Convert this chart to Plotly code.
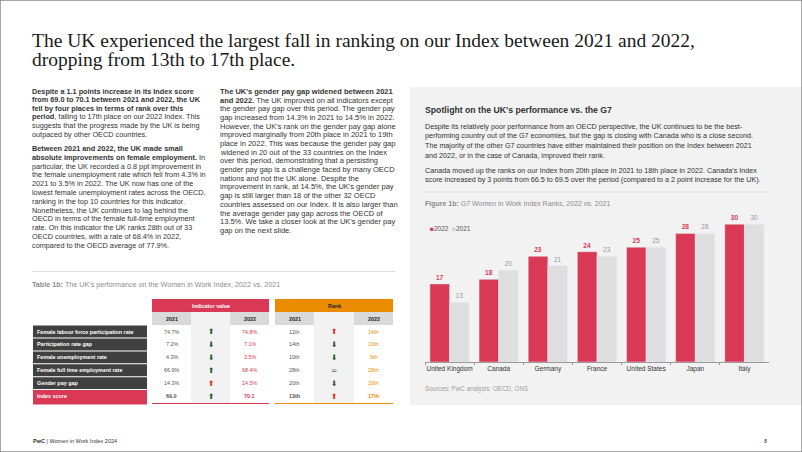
import plotly.graph_objects as go

# ---------------- data ----------------
countries = ["United Kingdom", "Canada", "Germany", "France", "United States", "Japan", "Italy"]
rank_2022 = [17, 18, 23, 24, 25, 28, 30]
rank_2021 = [13, 20, 21, 23, 25, 28, 30]

table_rows = ["Female labour force participation rate", "Participation rate gap",
              "Female unemployment rate", "Female full time employment rate",
              "Gender pay gap", "Index score"]
value_2021 = ["74.7%", "7.2%", "4.3%", "66.9%", "14.3%", "69.0"]
value_2022 = ["74.8%", "7.1%", "3.5%", "68.4%", "14.5%", "70.1"]
value_arrow = ["up_good", "down_good", "down_good", "up_good", "up_bad", "up_good"]
rank_t_2021 = ["12th", "14th", "10th", "28th", "20th", "13th"]
rank_t_2022 = ["14th", "13th", "9th", "28th", "19th", "17th"]
rank_arrow = ["up_bad", "down_good", "down_good", "equal", "down_good", "up_bad"]

title_lines = ["The UK experienced the largest fall in ranking on our Index between 2021 and 2022,",
               "dropping from 13th to 17th place."]
left_p1 = ["<b>Despite a 1.1 points increase in its Index score</b>",
           "<b>from 69.0 to 70.1 between 2021 and 2022, the UK</b>",
           "<b>fell by four places in terms of rank over this</b>",
           "<b>period</b>, falling to 17th place on our 2022 Index. This",
           "suggests that the progress made by the UK is being",
           "outpaced by other OECD countries."]
left_p2 = ["<b>Between 2021 and 2022, the UK made small</b>",
           "<b>absolute improvements on female employment.</b> In",
           "particular, the UK recorded a 0.8 ppt improvement in",
           "the female unemployment rate which fell from 4.3% in",
           "2021 to 3.5% in 2022. The UK now has one of the",
           "lowest female unemployment rates across the OECD,",
           "ranking in the top 10 countries for this indicator.",
           "Nonetheless, the UK continues to lag behind the",
           "OECD in terms of the female full-time employment",
           "rate. On this indicator the UK ranks 28th out of 33",
           "OECD countries, with a rate of 68.4% in 2022,",
           "compared to the OECD average of 77.9%."]
mid_p = ["<b>The UK's gender pay gap widened between 2021</b>",
         "<b>and 2022.</b> The UK improved on all indicators except",
         "the gender pay gap over this period. The gender pay",
         "gap increased from 14.3% in 2021 to 14.5% in 2022.",
         "However, the UK's rank on the gender pay gap alone",
         "improved marginally from 20th place in 2021 to 19th",
         "place in 2022. This was because the gender pay gap",
         "widened in 20 out of the 33 countries on the Index",
         "over this period, demonstrating that a persisting",
         "gender pay gap is a challenge faced by many OECD",
         "nations and not the UK alone. Despite the",
         "improvement in rank, at 14.5%, the UK's gender pay",
         "gap is still larger than 18 of the other 32 OECD",
         "countries assessed on our Index. It is also larger than",
         "the average gender pay gap across the OECD of",
         "13.5%. We take a closer look at the UK's gender pay",
         "gap on the next slide."]
right_p1 = ["Despite its relatively poor performance from an OECD perspective, the UK continues to be the best-",
            "performing country out of the G7 economies, but the gap is closing with Canada who is a close second.",
            "The majority of the other G7 countries have either maintained their position on the Index between 2021",
            "and 2022, or in the case of Canada, improved their rank."]
right_p2 = ["Canada moved up the ranks on our Index from 20th place in 2021 to 18th place in 2022. Canada's Index",
            "score increased by 3 points from 66.5 to 69.5 over the period (compared to a 2 point increase for the UK)."]

# ---------------- styling ----------------
W, H = 802, 452
RED = "#d93954"
ORANGE = "#eb8c00"
GREY_BAR = "#dedede"
PANEL = "#f2f2f2"
DARK = "#404040"
TXT = "#333333"
GREEN = "#175c2c"
ARROW_RED = "#e0301e"
SANS = "Liberation Sans, Arial, sans-serif"


def X(p):
    return p / W


def Y(p):
    return 1 - p / H


shapes = []
ann = []


def rect(x0, y0, x1, y1, color, layer="below"):
    shapes.append(dict(type="rect", xref="paper", yref="paper", x0=X(x0), x1=X(x1),
                       y0=Y(y1), y1=Y(y0), fillcolor=color, line=dict(width=0), layer=layer))


def line(x0, y0, x1, y1, color, width=1):
    shapes.append(dict(type="line", xref="paper", yref="paper", x0=X(x0), x1=X(x1),
                       y0=Y(y0), y1=Y(y1), line=dict(color=color, width=width), layer="below"))


def text(x, y, s, size=7, color=TXT, xanchor="left", yanchor="middle", family=SANS, align="left"):
    ann.append(dict(xref="paper", yref="paper", x=X(x), y=Y(y), text=s, showarrow=False,
                    xanchor=xanchor, yanchor=yanchor, align=align, borderpad=0,
                    font=dict(size=size, color=color, family=family)))


def para(x, y0, spacing, lines_list, size, color=TXT, family=SANS):
    for k, s in enumerate(lines_list):
        text(x, y0 + k * spacing, s, size=size, color=color, family=family)


# panel
rect(410, 87, 802, 405, PANEL)

# title
para(31, 40, 20, title_lines, 19.5, color="#1a1a1a", family="Liberation Serif, Georgia, serif")

# left & middle columns
para(31, 91, 8.6, left_p1, 7.3)
para(31, 148.5, 8.8, left_p2, 7.3)
para(219, 91.5, 8.68, mid_p, 7.5)
line(32, 271.5, 395, 271.5, "#dcdcdc", 1)

# right panel texts
text(424, 110, "<b>Spotlight on the UK's performance vs. the G7</b>", size=8.7, color="#333333")
para(424, 126, 9.9, right_p1, 7.2)
para(424, 170, 9.9, right_p2, 7.2)
line(424, 192, 770, 192, "#dedede", 1)
text(424, 204, "<b>Figure 1b:</b> G7 Women in Work Index Ranks, 2022 vs. 2021", size=7, color="#8c8c8c")
text(424, 389, "Sources: PwC analysis: OECD, ONS", size=6.3, color="#a0a0a0")

# legend (coloured squares + labels)
text(429, 228, "<span style='color:%s'>■</span>2022  <span style='color:%s'>■</span>2021" % (RED, "#d0d0d0"),
     size=6.5, color="#555555")

# ---------------- table ----------------
text(31, 284, "<b>Table 1b:</b> The UK's performance on the Women in Work Index, 2022 vs. 2021", size=7.2,
     color="#8c8c8c")

lab_x0, lab_x1 = 33, 147
vcols = [(152, 191), (191, 230), (230, 269)]
rcols = [(275, 314), (314, 354), (354, 393)]
hy0, hy1 = 299, 312
sy0, sy1 = 312, 325
row_h = 12.9
r0 = 325.6
TS = 5.4

rect(vcols[0][0], hy0, vcols[2][1], hy1, RED)
rect(rcols[0][0], hy0, rcols[2][1], hy1, ORANGE)
text((vcols[0][0] + vcols[2][1]) / 2, (hy0 + hy1) / 2, "<b>Indicator value</b>", size=TS, color="white",
     xanchor="center")
text((rcols[0][0] + rcols[2][1]) / 2, (hy0 + hy1) / 2, "<b>Rank</b>", size=TS, color="#222222",
     xanchor="center")
last_y = r0 + row_h * len(table_rows)
for cols in (vcols, rcols):
    rect(cols[0][0], sy0, cols[0][1], sy1, "#d9d9d9")
    rect(cols[2][0], sy0, cols[2][1], sy1, "#d9d9d9")
    rect(cols[1][0], sy0, cols[1][1], last_y, PANEL)
    for (c0, c1), lbl in ((cols[0], "2021"), (cols[2], "2022")):
        text((c0 + c1) / 2, (sy0 + sy1) / 2, "<b>" + lbl + "</b>", size=TS, color="#222222",
             xanchor="center")

arrow_glyph = {"up_good": ("⬆", GREEN), "down_good": ("⬇", GREEN),
               "up_bad": ("⬆", ARROW_RED), "equal": ("=", "#7f7f7f")}

for i, name in enumerate(table_rows):
    ya = r0 + i * row_h
    yb = ya + row_h - 1
    yc = (ya + yb) / 2
    last = (i == len(table_rows) - 1)
    rect(lab_x0, ya, lab_x1, yb + (1 if last else 0), RED if last else DARK)
    text(lab_x0 + 3, yc, "<b>" + name + "</b>", size=TS, color="white")
    b0, b1 = ("<b>", "</b>") if last else ("", "")
    text(sum(vcols[0]) / 2, yc, b0 + value_2021[i] + b1, size=TS, color="#555555", xanchor="center")
    text(sum(vcols[2]) / 2, yc, b0 + value_2022[i] + b1, size=TS, color=RED, xanchor="center")
    text(sum(rcols[0]) / 2, yc, b0 + rank_t_2021[i] + b1, size=TS, color="#555555", xanchor="center")
    text(sum(rcols[2]) / 2, yc, b0 + rank_t_2022[i] + b1, size=TS, color=ORANGE, xanchor="center")
    g, c = arrow_glyph[value_arrow[i]]
    text(sum(vcols[1]) / 2, yc, g, size=7.5, color=c, xanchor="center", family="DejaVu Sans")
    g, c = arrow_glyph[rank_arrow[i]]
    text(sum(rcols[1]) / 2, yc, ("<b>" + g + "</b>") if g == "=" else g, size=7.5, color=c,
         xanchor="center", family="DejaVu Sans")

line(vcols[0][0], last_y + 0.5, vcols[2][1], last_y + 0.5, RED, 1)
line(rcols[0][0], last_y + 0.5, rcols[2][1], last_y + 0.5, ORANGE, 1)
rect(lab_x0, last_y - 1, lab_x1, last_y + 1.5, RED)

# footer
text(32, 441, "<b>PwC</b> | Women in Work Index 2024", size=5.5, color="#333333")
text(768, 441, "8", size=5.5, color="#333333", xanchor="right")

# border
shapes.append(dict(type="rect", xref="paper", yref="paper", x0=0, x1=1, y0=0, y1=1,
                   line=dict(color="#8a8a8a", width=1.5), fillcolor="rgba(0,0,0,0)", layer="above"))

# ---------------- chart ----------------
fig = go.Figure()
fig.add_trace(go.Bar(x=countries, y=rank_2022, name="2022", marker_color=RED,
                     text=rank_2022, textposition="outside", cliponaxis=False,
                     texttemplate="<b>%{text}</b>", textfont=dict(size=6.5, color=RED, family=SANS)))
fig.add_trace(go.Bar(x=countries, y=rank_2021, name="2021", marker_color=GREY_BAR,
                     text=rank_2021, textposition="outside", cliponaxis=False,
                     textfont=dict(size=6.5, color="#999999", family=SANS)))

fig.update_layout(
    width=W, height=H, margin=dict(l=0, r=0, t=0, b=0),
    paper_bgcolor="white", plot_bgcolor="rgba(0,0,0,0)",
    barmode="group", bargap=0.2, bargroupgap=0,
    font=dict(family=SANS, color=TXT),
    showlegend=False,
    xaxis=dict(domain=[X(425), X(769)], showline=True, linecolor="#9a9a9a", linewidth=1,
               ticks="outside", tickson="boundaries", ticklen=2, tickcolor="#9a9a9a", tickangle=0,
               tickfont=dict(size=6.5, color="#333333"), showgrid=False, fixedrange=True),
    yaxis=dict(domain=[Y(362), Y(215)], range=[0, 32], visible=False, showgrid=False),
    shapes=shapes, annotations=ann,
)

fig.write_html("out.html", config={"displayModeBar": False},
               post_script="document.body.style.margin='0';document.body.style.overflow='hidden';")
